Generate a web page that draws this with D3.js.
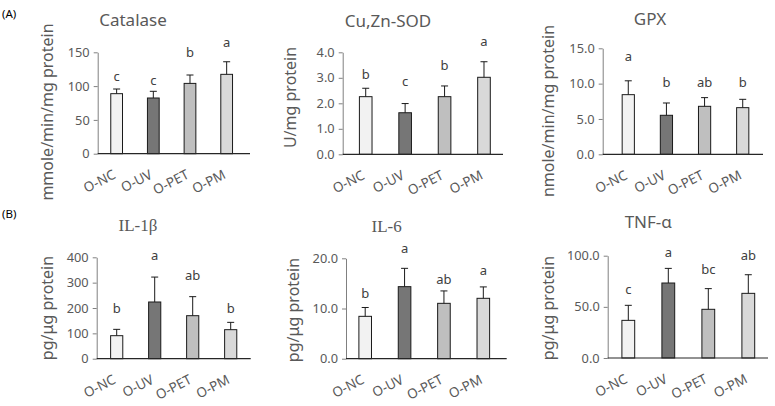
<!DOCTYPE html>
<html lang="en">
<head>
<meta charset="UTF-8">
<title>Antioxidant enzymes and cytokines</title>
<script src="https://d3js.org/d3.v7.min.js"></script>
<style>
  body { margin: 0; background: #fff; }
  svg text { font-family: "Noto Sans", "Open Sans", sans-serif; }
  .tick text { fill: #595959; font-size: 12.8px; }
</style>
</head>
<body>
<div id="chart"></div>
<script>
// groups on the x axis
const groups = ["O-NC", "O-UV", "O-PET", "O-PM"];
const barFill = ["#f2f2f2", "#767676", "#bfbfbf", "#d9d9d9"];

// (A) antioxidant enzymes
const catalaseMean = [88.8, 82.4, 104.0, 117.4];
const catalaseErr = [6.9, 9.9, 12.4, 18.6];
const catalaseSig = ["c", "c", "b", "a"];
const catalaseSigAt = [108, 102, 143.5, 158];
const catalaseTicks = [0, 50, 100, 150];

const sodMean = [2.26, 1.63, 2.26, 3.02];
const sodErr = [0.33, 0.36, 0.42, 0.61];
const sodSig = ["b", "c", "b", "a"];
const sodSigAt = [2.95, 2.68, 3.31, 4.26];
const sodTicks = [0, 1, 2, 3, 4];

const gpxMean = [8.44, 5.52, 6.79, 6.60];
const gpxErr = [1.96, 1.74, 1.23, 1.18];
const gpxSig = ["a", "b", "ab", "b"];
const gpxSigAt = [13.2, 9.56, 9.56, 9.56];
const gpxTicks = [0, 5, 10, 15];

// (B) cytokines
const il1bMean = [90.8, 223.7, 169.7, 114.5];
const il1bErr = [25.0, 98.3, 75.0, 28.9];
const il1bSig = ["b", "a", "ab", "b"];
const il1bSigAt = [181, 389, 310, 181];
const il1bTicks = [0, 100, 200, 300, 400];

const il6Mean = [8.44, 14.35, 11.03, 12.03];
const il6Err = [1.76, 3.65, 2.47, 2.27];
const il6Sig = ["b", "a", "ab", "a"];
const il6SigAt = [12.0, 21.0, 14.8, 16.7];
const il6Ticks = [0, 10, 20];

const tnfMean = [36.8, 73.3, 47.6, 63.2];
const tnfErr = [14.7, 14.3, 20.2, 18.2];
const tnfSig = ["c", "a", "bc", "ab"];
const tnfSigAt = [62.3, 99, 82, 95.8];
const tnfTicks = [0, 50, 100];

// panel frames: x0 = y axis, xr = band range, xe = end of x axis, yt/yb = top tick / baseline
const panels = [
  { title: "Catalase", serif: false, label: "mmole/min/mg protein", mean: catalaseMean, err: catalaseErr, sig: catalaseSig, sigAt: catalaseSigAt, ticks: catalaseTicks, fmt: "d",
    x0: 97.7, xr: [98.3, 245], xe: 250, yt: 52.3, yb: 153.7, tx: 133, ty: 26, lx: 47, ly: 112 },
  { title: "Cu,Zn-SOD", serif: false, label: "U/mg protein", mean: sodMean, err: sodErr, sig: sodSig, sigAt: sodSigAt, ticks: sodTicks, fmt: ".1f",
    x0: 342.7, xr: [346, 503.7], xe: 503, yt: 52.3, yb: 154.3, tx: 388, ty: 26.5, lx: 290, ly: 97.5 },
  { title: "GPX", serif: false, label: "nmole/min/mg protein", mean: gpxMean, err: gpxErr, sig: gpxSig, sigAt: gpxSigAt, ticks: gpxTicks, fmt: ".1f",
    x0: 602.7, xr: [609.2, 761.8], xe: 763, yt: 48.3, yb: 154.3, tx: 650, ty: 25, lx: 548, ly: 111 },
  { title: "IL-1β", serif: true, label: "pg/μg protein", mean: il1bMean, err: il1bErr, sig: il1bSig, sigAt: il1bSigAt, ticks: il1bTicks, fmt: "d",
    x0: 96.7, xr: [97.7, 249.7], xe: 250.7, yt: 257.3, yb: 358.7, tx: 138, ty: 230.7, lx: 47, ly: 308 },
  { title: "IL-6", serif: true, label: "pg/μg protein", mean: il6Mean, err: il6Err, sig: il6Sig, sigAt: il6SigAt, ticks: il6Ticks, fmt: ".1f",
    x0: 346, xr: [345.5, 503], xe: 506.7, yt: 258.3, yb: 358.7, tx: 386.7, ty: 231.7, lx: 293, ly: 310 },
  { title: "TNF-α", serif: false, label: "pg/μg protein", mean: tnfMean, err: tnfErr, sig: tnfSig, sigAt: tnfSigAt, ticks: tnfTicks, fmt: ".1f",
    x0: 607.7, xr: [608.3, 768.3], xe: 768, yt: 255.7, yb: 358, tx: 648.3, ty: 228.3, lx: 548, ly: 308 }
];

const svg = d3.select("#chart").append("svg")
  .attr("width", 775)
  .attr("height", 406);

// panel letters
svg.append("text").attr("x", 2).attr("y", 17.5).attr("font-size", 11.5).attr("fill", "#000").text("(A)");
svg.append("text").attr("x", 2).attr("y", 217.5).attr("font-size", 11.5).attr("fill", "#000").text("(B)");

panels.forEach(function(p) {
  const g = svg.append("g");

  const x = d3.scaleBand().domain(groups).range(p.xr).paddingInner(0.68).paddingOuter(0.34);
  const y = d3.scaleLinear().domain([0, d3.max(p.ticks)]).range([p.yb, p.yt]);

  // y axis
  const yAxis = g.append("g")
    .attr("transform", "translate(" + p.x0 + ",0)")
    .call(d3.axisLeft(y).tickValues(p.ticks).tickFormat(d3.format(p.fmt)).tickSize(4).tickPadding(4).tickSizeOuter(0));
  yAxis.select(".domain").attr("stroke", "#808080");
  yAxis.selectAll(".tick line").attr("stroke", "#808080");

  // bars
  g.selectAll(".bar")
    .data(groups)
    .join("rect")
    .attr("class", "bar")
    .attr("x", d => x(d))
    .attr("width", x.bandwidth())
    .attr("y", (d, i) => y(p.mean[i]))
    .attr("height", (d, i) => y(0) - y(p.mean[i]))
    .attr("fill", (d, i) => barFill[i])
    .attr("stroke", "#1a1a1a")
    .attr("stroke-width", 1);

  // error bars (upper only)
  const cx = d => x(d) + x.bandwidth() / 2;
  g.selectAll(".err")
    .data(groups)
    .join("path")
    .attr("class", "err")
    .attr("fill", "none")
    .attr("stroke", "#1a1a1a")
    .attr("stroke-width", 1)
    .attr("d", (d, i) => {
      const top = y(p.mean[i] + p.err[i]);
      return "M" + cx(d) + "," + y(p.mean[i]) + "V" + top + "M" + (cx(d) - 3.5) + "," + top + "H" + (cx(d) + 3.5);
    });

  // x axis line
  g.append("line")
    .attr("x1", p.x0).attr("x2", p.xe)
    .attr("y1", y(0)).attr("y2", y(0))
    .attr("stroke", "#262626").attr("stroke-width", 1.2);

  // significance letters
  g.selectAll(".sig")
    .data(groups)
    .join("text")
    .attr("class", "sig")
    .attr("x", d => cx(d))
    .attr("y", (d, i) => y(p.sigAt[i]))
    .attr("text-anchor", "middle")
    .attr("font-size", 13)
    .attr("fill", "#404040")
    .text((d, i) => p.sig[i]);

  // rotated category labels
  g.selectAll(".cat")
    .data(groups)
    .join("text")
    .attr("class", "cat")
    .attr("text-anchor", "end")
    .attr("font-size", 13.5)
    .attr("fill", "#595959")
    .attr("transform", d => "translate(" + (cx(d) + 0) + "," + (y(0) + 24) + ") rotate(-27)")
    .text(d => d);

  // title
  g.append("text")
    .attr("x", p.tx).attr("y", p.ty)
    .attr("text-anchor", "middle")
    .attr("font-size", 17)
    .attr("fill", "#595959")
    .style("font-family", p.serif ? "'Liberation Serif', 'DejaVu Serif', serif" : null)
    .text(p.title);

  // y axis label
  g.append("text")
    .attr("transform", "translate(" + p.lx + "," + p.ly + ") rotate(-90)")
    .attr("text-anchor", "middle")
    .attr("dominant-baseline", "central")
    .attr("font-size", 16)
    .attr("fill", "#595959")
    .text(p.label);
});
</script>
</body>
</html>
